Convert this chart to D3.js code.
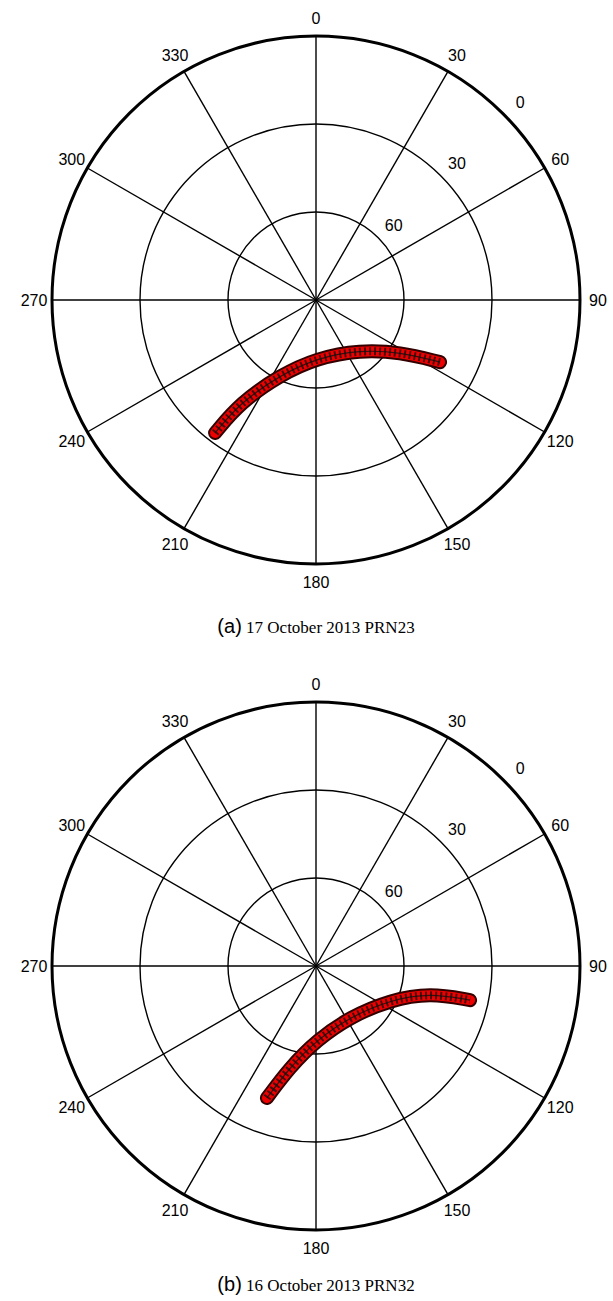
<!DOCTYPE html>
<html><head><meta charset="utf-8">
<script src="https://cdn.jsdelivr.net/npm/d3@7"></script>
<style>body{margin:0;background:#fff}</style>
</head><body>
<svg id="chart" width="613" height="1301"></svg>
<script>
const azTicks = [0, 30, 60, 90, 120, 150, 180, 210, 240, 270, 300, 330];
const elTicks = [0, 30, 60];
// track A: [azimuth, elevation]
const trackA = [[217.2, 33.1], [216.4, 46.4], [205.6, 61.6], [179, 70.2], [138.7, 67.3], [121.8, 56.3], [116.6, 42.7]];
const trackB = [[200.4, 42.0], [194.4, 54.4], [179.2, 64.8], [146.3, 69.1], [114.7, 62.2], [103.3, 50.0], [102.5, 36.2]];
const panels = [
  {cy: 300, track: trackA, tag: "(a)", caption: " 17 October 2013 PRN23", capY: 633},
  {cy: 966, track: trackB, tag: "(b)", caption: " 16 October 2013 PRN32", capY: 1291}
];

const svg = d3.select("#chart");
const cx = 316, R = 264;
const rScale = d3.scaleLinear().domain([90, 0]).range([0, R]);
const rad = a => a * Math.PI / 180;

panels.forEach(p => {
  const g = svg.append("g").attr("transform", `translate(${cx},${p.cy})`);
  const pt = (az, el) => [rScale(el) * Math.sin(rad(az)), -rScale(el) * Math.cos(rad(az))];

  azTicks.forEach(a => {
    const [x, y] = pt(a, 0);
    g.append("line").attr("x1", 0).attr("y1", 0).attr("x2", x).attr("y2", y)
      .attr("stroke", "#000").attr("stroke-width", 1.4);
    const lr = R + 18;
    g.append("text").attr("x", lr * Math.sin(rad(a))).attr("y", -lr * Math.cos(rad(a)))
      .attr("text-anchor", "middle").attr("dy", "0.35em")
      .attr("font-family", "Liberation Sans, Arial").attr("font-size", 16).text(a);
  });
  elTicks.forEach(e => {
    g.append("circle").attr("r", rScale(e)).attr("fill", "none").attr("stroke", "#000")
      .attr("stroke-width", e === 0 ? 3 : 1.4);
    const lr = rScale(e) + 20;
    g.append("text").attr("x", lr * Math.sin(rad(46))).attr("y", -lr * Math.cos(rad(46)))
      .attr("text-anchor", "middle").attr("dy", "0.35em")
      .attr("font-family", "Liberation Sans, Arial").attr("font-size", 16).text(e);
  });

  const line = d3.line().curve(d3.curveBasis).x(d => pt(d[0], d[1])[0]).y(d => pt(d[0], d[1])[1]);
  const d = line(p.track);
  g.append("path").attr("d", d).attr("fill", "none").attr("stroke", "#300")
    .attr("stroke-width", 14).attr("stroke-linecap", "round");
  g.append("path").attr("d", d).attr("fill", "none").attr("stroke", "#e00")
    .attr("stroke-width", 10).attr("stroke-linecap", "round");
  g.append("path").attr("d", d).attr("fill", "none").attr("stroke", "#111")
    .attr("stroke-width", 8).attr("stroke-dasharray", "2 3").attr("opacity", 0.75);
  g.append("path").attr("d", d).attr("fill", "none").attr("stroke", "#111")
    .attr("stroke-width", 1.2).attr("opacity", 0.8);

  const t = svg.append("text").attr("x", cx).attr("y", p.capY).attr("text-anchor", "middle");
  t.append("tspan").attr("font-family", "Liberation Sans, Arial").attr("font-size", 20).text(p.tag);
  t.append("tspan").attr("font-family", "Liberation Serif, Times New Roman").attr("font-size", 17).text(p.caption);
});
</script>
</body></html>
